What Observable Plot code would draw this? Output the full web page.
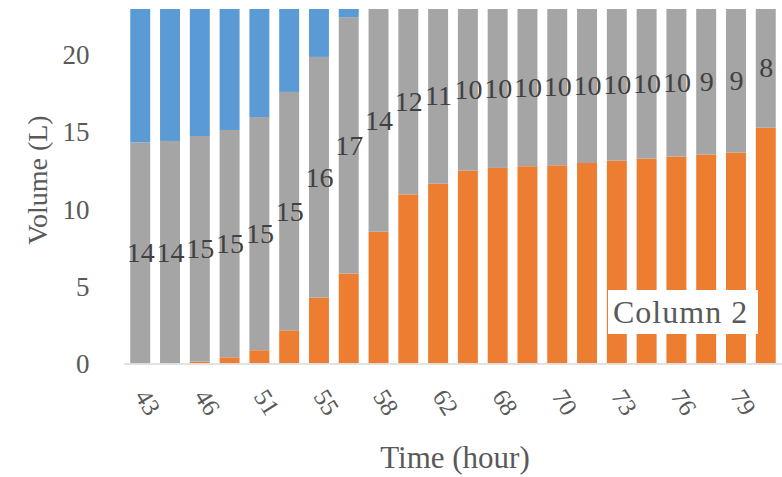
<!DOCTYPE html>
<html><head><meta charset="utf-8">
<script src="https://cdn.jsdelivr.net/npm/d3@7"></script>
<script src="https://cdn.jsdelivr.net/npm/@observablehq/plot@0.6"></script>
<style>body{margin:0;background:#fff}</style>
</head><body><div id="chart"></div>
<script>
// Time (hour) of each bar; only every other one is labelled in the source
const hours = [43,44,46,48,51,53,55,56,58,60,62,65,68,69,70,71,73,74,76,77,79,81];
const tickHours = [43,46,51,55,58,62,68,70,73,76,79];
const yTicks = [0,5,10,15,20];
// Column 2 (orange, bottom)
const orange = [0,0,0.12,0.40,0.86,2.15,4.27,5.83,8.55,10.97,11.67,12.51,12.69,12.80,12.86,13.01,13.16,13.29,13.42,13.55,13.68,15.30];
// Column 3 (gray, middle, labelled)
const gray = [14.35,14.44,14.64,14.75,15.13,15.47,15.62,16.64,14.49,12.10,11.40,10.49,10.36,10.25,10.20,10.04,9.90,9.76,9.63,9.49,9.37,7.75];
// Column 1 (blue, top)
const blue = [9.6,9.5,9.2,8.8,8.0,6.4,4.1,1.5,0,0,0,0,0,0,0,0,0,0,0,0,0,0];
const seriesNames = ["Column 2","Column 3","Column 1"];
const seriesColors = ["#ED7D31","#A5A5A5","#5B9BD5"];

const table = hours.flatMap((h,i)=>[
  {hour:h, series:"Column 2", value:orange[i]},
  {hour:h, series:"Column 3", value:gray[i]},
  {hour:h, series:"Column 1", value:blue[i]}
]);
const fmt = d3.format(".0f");
const font = "'Liberation Serif', 'Times New Roman', serif";

const plot = Plot.plot({
  width:782, height:477,
  marginLeft:124, marginRight:0, marginTop:9, marginBottom:113.5,
  style:{fontFamily:font, background:"#fff", overflow:"visible"},
  x:{type:"band", domain:hours, paddingInner:0.33, paddingOuter:0.21, round:false, axis:null},
  y:{domain:[0,23], axis:null},
  color:{domain:seriesNames, range:seriesColors},
  marks:[
    Plot.barY(table, {x:"hour", y:"value", fill:"series", clip:true}),
    Plot.ruleY([0], {stroke:"#d9d9d9", strokeWidth:1.3}),
    Plot.axisY({ticks:yTicks, tickSize:0, tickPadding:35, fontSize:27, fill:"#595959", label:null}),
    Plot.axisX({ticks:tickHours, tickSize:0, tickRotate:58, tickPadding:28, fontSize:25, fill:"#595959", label:null}),
    Plot.text(table, Plot.stackY({x:"hour", y:"value", z:"series",
      text: d => d.series==="Column 3" ? fmt(d.value) : null,
      fontSize:28, fill:"#404040"}))
  ]
});

const svg = d3.select(plot);
svg.append("text")
  .attr("transform","translate(37,180) rotate(-90)")
  .attr("text-anchor","middle").attr("dominant-baseline","central")
  .attr("font-size",28).attr("fill","#595959").attr("font-family",font)
  .text("Volume (L)");
svg.append("text")
  .attr("x",455).attr("y",457)
  .attr("text-anchor","middle").attr("dominant-baseline","central")
  .attr("font-size",31).attr("fill","#595959").attr("font-family",font)
  .text("Time (hour)");
const lg = svg.append("g");
lg.append("rect").attr("x",608).attr("y",290).attr("width",150).attr("height",44).attr("fill","#fff");
lg.append("text").attr("x",613).attr("y",312).attr("text-anchor","start").attr("dominant-baseline","central")
  .attr("font-size",32).attr("letter-spacing",1).attr("fill","#595959").attr("font-family",font)
  .text("Column 2");

document.getElementById("chart").appendChild(plot);
</script>
</body></html>
